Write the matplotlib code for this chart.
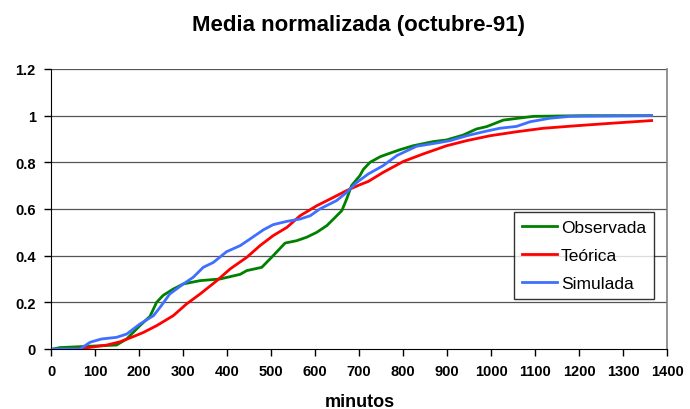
import matplotlib
matplotlib.use("Agg")
import matplotlib.pyplot as plt

plt.rcParams['font.family'] = ['Liberation Sans', 'DejaVu Sans']

obs_x = [5, 20, 149, 172, 202, 225, 240, 255, 278, 301, 339, 384, 430, 445, 479, 505, 532, 558, 581, 604, 627, 642, 661, 672, 683, 702, 710, 725, 748, 770, 793, 823, 869, 899, 937, 967, 990, 1028, 1066, 1096, 1209, 1365]
obs_y = [0, 0.006, 0.017, 0.043, 0.10, 0.14, 0.20, 0.23, 0.257, 0.279, 0.293, 0.30, 0.32, 0.336, 0.35, 0.40, 0.454, 0.464, 0.479, 0.50, 0.529, 0.557, 0.593, 0.643, 0.70, 0.743, 0.77, 0.80, 0.824, 0.839, 0.854, 0.871, 0.889, 0.896, 0.917, 0.943, 0.953, 0.981, 0.99, 0.997, 1.0, 1.0]

teo_x = [58, 89, 127, 157, 187, 210, 240, 278, 308, 339, 377, 407, 445, 475, 505, 536, 566, 604, 642, 672, 702, 721, 755, 801, 846, 899, 945, 998, 1058, 1119, 1195, 1270, 1365]
teo_y = [0, 0.007, 0.017, 0.031, 0.053, 0.071, 0.10, 0.143, 0.193, 0.236, 0.293, 0.343, 0.393, 0.443, 0.486, 0.521, 0.571, 0.614, 0.65, 0.679, 0.704, 0.718, 0.757, 0.804, 0.836, 0.871, 0.893, 0.914, 0.931, 0.946, 0.957, 0.967, 0.979]

sim_x = [5, 66, 89, 115, 149, 172, 202, 233, 248, 270, 301, 323, 346, 369, 399, 430, 452, 483, 505, 536, 566, 589, 611, 649, 672, 695, 721, 755, 786, 831, 877, 907, 945, 983, 1020, 1058, 1089, 1134, 1180, 1365]
sim_y = [0, 0, 0.029, 0.043, 0.05, 0.064, 0.107, 0.143, 0.179, 0.236, 0.279, 0.307, 0.35, 0.371, 0.417, 0.443, 0.471, 0.511, 0.533, 0.547, 0.557, 0.571, 0.60, 0.636, 0.671, 0.714, 0.75, 0.786, 0.829, 0.869, 0.883, 0.893, 0.914, 0.931, 0.946, 0.954, 0.974, 0.989, 0.997, 1.0]

series_labels = ["Observada", "Teórica", "Simulada"]
title = "Media normalizada (octubre-91)"
xlabel = "minutos"

fig = plt.figure(figsize=(6.9, 4.1), dpi=100)
ax = fig.add_axes([51/690, 1 - 350/410, (667 - 51)/690, (350 - 70)/410])

for v in [0.2, 0.4, 0.6, 0.8, 1.0, 1.2]:
    ax.axhline(v, color='#555555', lw=0.9, zorder=1)

ax.plot(obs_x, obs_y, color='#008000', lw=2.0, label=series_labels[0], zorder=3)
ax.plot(teo_x, teo_y, color='#FF0000', lw=2.0, label=series_labels[1], zorder=3)
ax.plot(sim_x, sim_y, color='#3F6FFF', lw=2.0, label=series_labels[2], zorder=4)

ax.set_xlim(0, 1400)
ax.set_ylim(0, 1.2)
ax.set_xticks(range(0, 1401, 100))
ax.set_yticks([0, 0.2, 0.4, 0.6, 0.8, 1.0, 1.2])
ax.set_yticklabels(['0', '0.2', '0.4', '0.6', '0.8', '1', '1.2'])
for lab in ax.get_xticklabels() + ax.get_yticklabels():
    lab.set_fontweight('bold')
    lab.set_fontsize(10.5)
ax.tick_params(axis='both', direction='out', length=5, width=1, color='black')
ax.tick_params(axis='x', pad=6)
ax.tick_params(axis='y', pad=6)

ax.spines['left'].set_color('black')
ax.spines['bottom'].set_color('black')
ax.spines['right'].set_color('#808080')
ax.spines['top'].set_visible(False)
ax.spines['right'].set_linewidth(1.2)

fig.text(359/690, 1 - 26/410, title, ha='center', va='center', fontsize=16, fontweight='bold')
fig.text(360/690, 1 - 403/410, xlabel, ha='center', va='center', fontsize=13, fontweight='bold')

leg = ax.legend(loc='upper left', bbox_to_anchor=((514 - 51)/616, (350 - 213)/280),
                frameon=True, fancybox=False, edgecolor='black', fontsize=12.5,
                handlelength=2.0, handletextpad=0.25, borderpad=0.45, labelspacing=0.75,
                borderaxespad=0)
leg.get_frame().set_linewidth(1.0)

fig.savefig('out.png', dpi=100)
